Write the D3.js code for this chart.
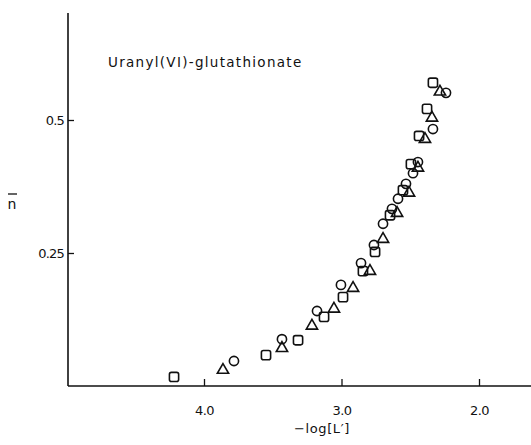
<!DOCTYPE html>
<html>
<head>
<meta charset="utf-8">
<script src="https://cdn.jsdelivr.net/npm/d3@7"></script>
<style>
  body { margin: 0; background: #fff; }
  text { font-family: "DejaVu Sans", sans-serif; fill: #111; }
</style>
</head>
<body>
<div id="d3-container"></div>
<script>
// DATA
const circleX = [3.782, 3.433, 3.178, 3.004, 2.858, 2.764, 2.698, 2.633, 2.589, 2.531, 2.480, 2.444, 2.335, 2.240];
const circleY = [0.047, 0.088, 0.141, 0.190, 0.231, 0.265, 0.305, 0.333, 0.352, 0.380, 0.400, 0.421, 0.483, 0.551];

const triangleX = [3.862, 3.433, 3.215, 3.055, 2.916, 2.793, 2.698, 2.596, 2.509, 2.444, 2.393, 2.342, 2.284];
const triangleY = [0.030, 0.071, 0.113, 0.145, 0.184, 0.216, 0.276, 0.325, 0.363, 0.410, 0.464, 0.504, 0.553];

const squareX = [4.218, 3.549, 3.316, 3.127, 2.989, 2.844, 2.756, 2.647, 2.553, 2.495, 2.436, 2.378, 2.335];
const squareY = [0.017, 0.058, 0.086, 0.130, 0.167, 0.216, 0.252, 0.321, 0.368, 0.417, 0.470, 0.521, 0.570];

const xTicks = [4.0, 3.0, 2.0];
const yTicks = [0.25, 0.5];
const xTickLabels = ["4.0", "3.0", "2.0"];
const yTickLabels = ["0.25", "0.5"];

const title = "Uranyl(VI)-glutathionate";
const xLabel = "\u2212log[L\u2032]";

// CONSTANTS
const width = 531,
    height = 445,
    axisLeftX = 68,
    axisBottomY = 386,
    axisTopY = 13;

const xScale = d3.scaleLinear()
    .domain([4.0, 2.0])
    .range([204, 479]);

const yScale = d3.scaleLinear()
    .domain([0, 0.5])
    .range([axisBottomY, 120]);

const svg = d3.select("#d3-container")
    .append("svg")
    .attr("width", width)
    .attr("height", height);

// axes
const yAxis = d3.axisRight(yScale)
    .tickValues(yTicks)
    .tickSize(6)
    .tickFormat((d, i) => yTickLabels[i]);

const xAxis = d3.axisTop(xScale)
    .tickValues(xTicks)
    .tickSize(7)
    .tickFormat((d, i) => xTickLabels[i]);

const gy = svg.append("g")
    .attr("transform", `translate(${axisLeftX},0)`)
    .call(yAxis);
gy.select(".domain").remove();
gy.selectAll("text")
    .attr("x", -4)
    .attr("dy", "0.38em")
    .attr("text-anchor", "end")
    .style("font-size", "13px")
    .style("letter-spacing", "-0.8px");

const gx = svg.append("g")
    .attr("transform", `translate(0,${axisBottomY})`)
    .call(xAxis);
gx.select(".domain").remove();
gx.selectAll("text")
    .attr("y", 29)
    .attr("dy", 0)
    .style("font-size", "13px")
    .style("letter-spacing", "-0.6px");

svg.selectAll(".tick line")
    .attr("stroke", "#111")
    .attr("stroke-width", 1.3);

// axis lines
svg.append("line")
    .attr("x1", axisLeftX).attr("x2", axisLeftX)
    .attr("y1", axisTopY).attr("y2", axisBottomY)
    .attr("stroke", "#111")
    .attr("stroke-width", 1.6);

svg.append("line")
    .attr("x1", axisLeftX).attr("x2", width)
    .attr("y1", axisBottomY).attr("y2", axisBottomY)
    .attr("stroke", "#111")
    .attr("stroke-width", 1.6);

// labels
svg.append("text")
    .attr("x", 108)
    .attr("y", 67)
    .style("font-size", "13.5px")
    .style("letter-spacing", "1.3px")
    .text(title);

svg.append("text")
    .attr("x", 322)
    .attr("y", 433)
    .attr("text-anchor", "middle")
    .style("font-size", "13px")
    .style("letter-spacing", "0.6px")
    .text(xLabel);

// n-bar label
svg.append("text")
    .attr("x", 12)
    .attr("y", 209)
    .attr("text-anchor", "middle")
    .style("font-size", "14px")
    .text("n");
svg.append("line")
    .attr("x1", 8).attr("x2", 17)
    .attr("y1", 194).attr("y2", 194)
    .attr("stroke", "#111")
    .attr("stroke-width", 1.3);

// markers
const markStyle = g => g
    .attr("fill", "none")
    .attr("stroke", "#111")
    .attr("stroke-width", 1.6);

svg.append("g").call(markStyle)
    .selectAll("circle")
    .data(circleX.map((x, i) => [x, circleY[i]]))
    .join("circle")
    .attr("cx", d => xScale(d[0]))
    .attr("cy", d => yScale(d[1]))
    .attr("r", 4.6);

svg.append("g").call(markStyle)
    .selectAll("path")
    .data(triangleX.map((x, i) => [x, triangleY[i]]))
    .join("path")
    .attr("transform", d => `translate(${xScale(d[0])},${yScale(d[1])})`)
    .attr("d", d3.symbol(d3.symbolTriangle, 55));

svg.append("g").call(markStyle)
    .selectAll("rect")
    .data(squareX.map((x, i) => [x, squareY[i]]))
    .join("rect")
    .attr("x", d => xScale(d[0]) - 4.6)
    .attr("y", d => yScale(d[1]) - 4.6)
    .attr("width", 9.2)
    .attr("height", 9.2)
    .attr("rx", 2);
</script>
</body>
</html>
